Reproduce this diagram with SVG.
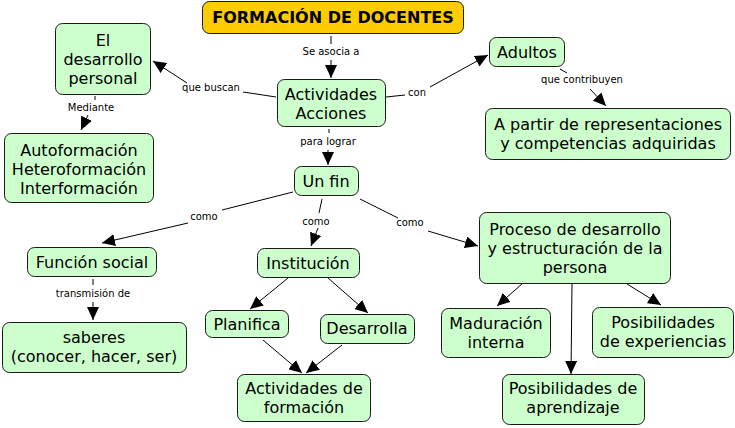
<svg xmlns="http://www.w3.org/2000/svg" width="735" height="428" viewBox="0 0 735 428">
<style>
.n{fill:#ccffcc;stroke:#1a1a1a;stroke-width:1}
.t{font-family:"DejaVu Sans",Verdana,sans-serif;font-size:16px;fill:#000;text-anchor:middle}
.l{font-family:"DejaVu Sans",Verdana,sans-serif;font-size:10px;fill:#000;text-anchor:middle}
.c line{stroke:#000;stroke-width:1}
</style>
<defs>
<marker id="a" markerUnits="userSpaceOnUse" markerWidth="14" markerHeight="12" refX="13" refY="6" orient="auto">
<path d="M0,0 L13,6 L0,12 Z" fill="#000"/>
</marker>
</defs>
<rect width="735" height="428" fill="#fff"/>
<g class="c">
<line x1="331" y1="36" x2="331" y2="44"/>
<line x1="331" y1="60" x2="331" y2="78" marker-end="url(#a)"/>
<line x1="276" y1="97" x2="243" y2="92"/>
<line x1="187" y1="83" x2="153" y2="61" marker-end="url(#a)"/>
<line x1="95" y1="96" x2="95" y2="100"/>
<line x1="88" y1="115" x2="81" y2="130" marker-end="url(#a)"/>
<line x1="329" y1="129" x2="329" y2="133"/>
<line x1="328" y1="150" x2="328" y2="165" marker-end="url(#a)"/>
<line x1="386" y1="97" x2="405" y2="95"/>
<line x1="430" y1="87" x2="488" y2="55" marker-end="url(#a)"/>
<line x1="560" y1="69" x2="567" y2="73"/>
<line x1="590" y1="89" x2="606" y2="106" marker-end="url(#a)"/>
<line x1="293" y1="192" x2="222" y2="210"/>
<line x1="188" y1="223" x2="102" y2="243" marker-end="url(#a)"/>
<line x1="322" y1="199" x2="319" y2="213"/>
<line x1="318" y1="228" x2="311" y2="246" marker-end="url(#a)"/>
<line x1="360" y1="199" x2="398" y2="218"/>
<line x1="428" y1="231" x2="478" y2="246" marker-end="url(#a)"/>
<line x1="93" y1="279" x2="93" y2="285"/>
<line x1="93" y1="302" x2="93" y2="320" marker-end="url(#a)"/>
<line x1="288" y1="278" x2="250" y2="309" marker-end="url(#a)"/>
<line x1="328" y1="278" x2="368" y2="313" marker-end="url(#a)"/>
<line x1="263" y1="340" x2="302" y2="373" marker-end="url(#a)"/>
<line x1="342" y1="345" x2="306" y2="373" marker-end="url(#a)"/>
<line x1="523" y1="283" x2="497" y2="306" marker-end="url(#a)"/>
<line x1="572" y1="284" x2="571" y2="374" marker-end="url(#a)"/>
<line x1="627" y1="284" x2="661" y2="305" marker-end="url(#a)"/>
</g>
<g id="labels">
<text class="l" x="331" y="55">Se asocia a</text>
<text class="l" x="211" y="91">que buscan</text>
<text class="l" x="91" y="111">Mediante</text>
<text class="l" x="328" y="145">para lograr</text>
<text class="l" x="417" y="96">con</text>
<text class="l" x="582" y="83">que contribuyen</text>
<text class="l" x="204" y="220">como</text>
<text class="l" x="316" y="225">como</text>
<text class="l" x="410" y="226">como</text>
<text class="l" x="93" y="297">transmisión de</text>
</g>
<g id="title">
<rect x="202.5" y="1.5" width="261" height="32" rx="7" fill="#ffcc00" stroke="#1a1a1a"/>
<text class="t" x="333" y="23" font-weight="bold">FORMACIÓN DE DOCENTES</text>
</g>
<g id="desarrollo">
<rect class="n" x="55.5" y="23.5" width="95" height="71" rx="7"/>
<text class="t" x="103" y="46">El</text>
<text class="t" x="103" y="65">desarrollo</text>
<text class="t" x="103" y="84">personal</text>
</g>
<g id="actividades">
<rect class="n" x="277.5" y="79.5" width="108" height="47" rx="7"/>
<text class="t" x="331" y="100">Actividades</text>
<text class="t" x="331" y="119">Acciones</text>
</g>
<g id="adultos">
<rect class="n" x="489.5" y="37.5" width="75" height="29" rx="7"/>
<text class="t" x="527" y="58">Adultos</text>
</g>
<g id="apartir">
<rect class="n" x="485.5" y="108.5" width="245" height="51" rx="7"/>
<text class="t" x="608" y="130">A partir de representaciones</text>
<text class="t" x="608" y="149">y competencias adquiridas</text>
</g>
<g id="autoformacion">
<rect class="n" x="4.5" y="133.5" width="149" height="69" rx="7"/>
<text class="t" x="79" y="156">Autoformación</text>
<text class="t" x="79" y="175">Heteroformación</text>
<text class="t" x="79" y="194">Interformación</text>
</g>
<g id="unfin">
<rect class="n" x="294.5" y="166.5" width="64" height="29" rx="7"/>
<text class="t" x="326" y="187">Un fin</text>
</g>
<g id="funcion">
<rect class="n" x="27.5" y="247.5" width="129" height="29" rx="7"/>
<text class="t" x="92" y="268">Función social</text>
</g>
<g id="institucion">
<rect class="n" x="257.5" y="248.5" width="102" height="29" rx="7"/>
<text class="t" x="308" y="269">Institución</text>
</g>
<g id="proceso">
<rect class="n" x="479.5" y="212.5" width="191" height="71" rx="7"/>
<text class="t" x="575" y="235">Proceso de desarrollo</text>
<text class="t" x="575" y="254">y estructuración de la</text>
<text class="t" x="575" y="273">persona</text>
</g>
<g id="saberes">
<rect class="n" x="2.5" y="322.5" width="184" height="50" rx="7"/>
<text class="t" x="94" y="343">saberes</text>
<text class="t" x="94" y="362">(conocer, hacer, ser)</text>
</g>
<g id="planifica">
<rect class="n" x="205.5" y="310.5" width="83" height="27" rx="7"/>
<text class="t" x="247" y="330">Planifica</text>
</g>
<g id="desarrolla">
<rect class="n" x="320.5" y="314.5" width="94" height="29" rx="7"/>
<text class="t" x="367" y="334">Desarrolla</text>
</g>
<g id="maduracion">
<rect class="n" x="441.5" y="308.5" width="109" height="49" rx="7"/>
<text class="t" x="496" y="329">Maduración</text>
<text class="t" x="496" y="348">interna</text>
</g>
<g id="experiencias">
<rect class="n" x="592.5" y="307.5" width="141" height="50" rx="7"/>
<text class="t" x="663" y="328">Posibilidades</text>
<text class="t" x="663" y="347">de experiencias</text>
</g>
<g id="actformacion">
<rect class="n" x="237.5" y="374.5" width="133" height="47" rx="7"/>
<text class="t" x="304" y="394">Actividades de</text>
<text class="t" x="304" y="413">formación</text>
</g>
<g id="aprendizaje">
<rect class="n" x="502.5" y="374.5" width="142" height="50" rx="7"/>
<text class="t" x="573" y="394">Posibilidades de</text>
<text class="t" x="573" y="413">aprendizaje</text>
</g>
</svg>
